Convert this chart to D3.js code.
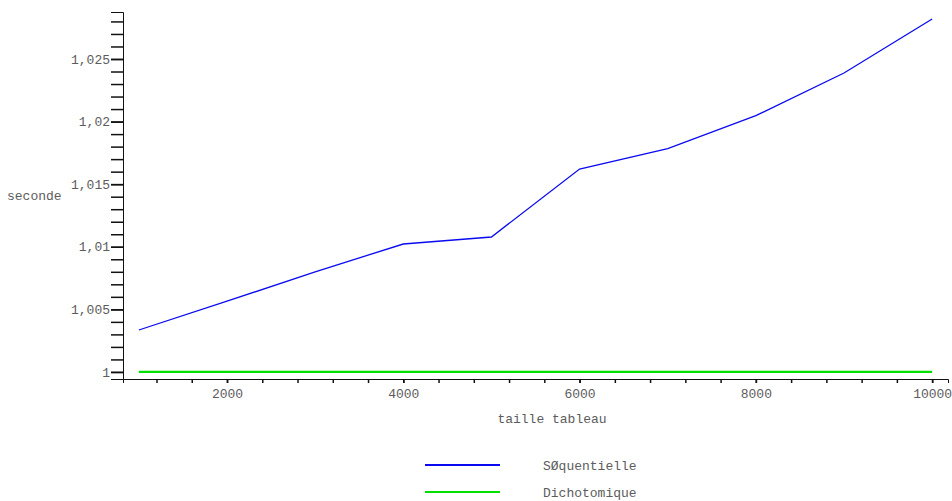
<!DOCTYPE html>
<html>
<head>
<meta charset="utf-8">
<script src="https://cdn.jsdelivr.net/npm/d3@7"></script>
<style>
  body { margin: 0; background: #fff; }
  text { font-family: "Liberation Mono", "Courier New", monospace; fill: #5c5c5c; }
  .axis text { font-size: 13px; }
  .axis path, .axis line { stroke: #111; }
</style>
</head>
<body>
<div id="container"></div>
<script>
// data
const tailles = [1000, 2000, 3000, 4000, 5000, 6000, 7000, 8000, 9000, 10000];
const sequentielle = [1.00335, 1.00565, 1.0080, 1.01022, 1.01078, 1.01621, 1.01784, 1.02047, 1.02388, 1.02819];
const dichotomique = [1, 1, 1, 1, 1, 1, 1, 1, 1, 1];
const xTicks = [2000, 4000, 6000, 8000, 10000];
const yTicks = [1, 1.005, 1.01, 1.015, 1.02, 1.025];

const series = [
  {name: "SØquentielle", values: sequentielle, color: "#0a0af0", width: 1.3},
  {name: "Dichotomique", values: dichotomique, color: "#00e000", width: 2.2}
];

var margin = {top: 12, right: 4, bottom: 122, left: 123},
    width = 952 - margin.left - margin.right,
    height = 501 - margin.top - margin.bottom;

const svg = d3.select("#container")
  .append("svg")
    .attr("width", 952)
    .attr("height", 501)
  .append("g")
    .attr("transform", "translate(" + margin.left + "," + margin.top + ")");

// domains padded 2% around the data like the original tool
const xExt = d3.extent(tailles);
const xPad = (xExt[1] - xExt[0]) * 0.02;
const yMin = d3.min(dichotomique), yMax = d3.max(sequentielle);
const yPad = (yMax - yMin) * 0.02;

const x = d3.scaleLinear()
  .domain([xExt[0] - xPad, xExt[1] + xPad])
  .range([0, width]);

const y = d3.scaleLinear()
  .domain([yMin - yPad, yMax + yPad])
  .range([height, 0]);

// french decimal comma
const fr = d3.formatLocale({decimal: ",", thousands: "", grouping: [3], currency: ["", "€"]});
const yLabel = d => fr.format("")(+d.toFixed(3));

// minor ticks
const yMinor = d3.range(1, y.domain()[1], 0.001).filter(v => v >= y.domain()[0]);
const xMinor = d3.range(1200, x.domain()[1], 400);

svg.append("g")
  .attr("class", "axis")
  .call(d3.axisLeft(y).tickValues(yMinor).tickSize(12).tickSizeOuter(12).tickFormat(""))
  .selectAll("line").attr("stroke-width", 1.5);

svg.append("g")
  .attr("class", "axis")
  .call(d3.axisLeft(y).tickValues(yTicks).tickSize(12).tickPadding(1).tickSizeOuter(0).tickFormat(yLabel))
  .call(g => g.select(".domain").remove())
  .selectAll("line").attr("stroke-width", 1.5);

svg.append("g")
  .attr("class", "axis")
  .attr("transform", "translate(0," + height + ")")
  .call(d3.axisBottom(x).tickValues(xMinor).tickSize(4).tickSizeOuter(4).tickFormat(""))
  .selectAll("line").attr("stroke-width", 1.5);

svg.append("g")
  .attr("class", "axis")
  .attr("transform", "translate(0," + height + ")")
  .call(d3.axisBottom(x).tickValues(xTicks).tickSize(4).tickPadding(6).tickSizeOuter(0).tickFormat(d3.format("d")))
  .call(g => g.select(".domain").remove())
  .selectAll("line").attr("stroke-width", 1.5);

// axis titles
svg.append("text")
  .attr("x", 7 - margin.left)
  .attr("y", 200 - margin.top)
  .style("font-size", "13px")
  .text("seconde");

svg.append("text")
  .attr("x", 552 - margin.left)
  .attr("y", 423 - margin.top)
  .attr("text-anchor", "middle")
  .style("font-size", "13px")
  .text("taille tableau");

// lines
const line = d3.line()
  .x((d, i) => x(tailles[i]))
  .y(d => y(d));

svg.selectAll(".serie")
  .data(series)
  .enter()
  .append("path")
  .attr("class", "serie")
  .attr("fill", "none")
  .attr("stroke", d => d.color)
  .attr("stroke-width", d => d.width)
  .attr("d", d => line(d.values));

// legend
const legend = svg.selectAll(".legend")
  .data(series)
  .enter()
  .append("g")
  .attr("class", "legend")
  .attr("transform", (d, i) => "translate(" + (425 - margin.left) + "," + (465 - margin.top + i * 27) + ")");

legend.append("line")
  .attr("x1", 0)
  .attr("x2", 75)
  .attr("stroke", d => d.color)
  .attr("stroke-width", 2.2);

legend.append("text")
  .attr("x", 118)
  .attr("y", 5)
  .style("font-size", "13px")
  .text(d => d.name);
</script>
</body>
</html>
